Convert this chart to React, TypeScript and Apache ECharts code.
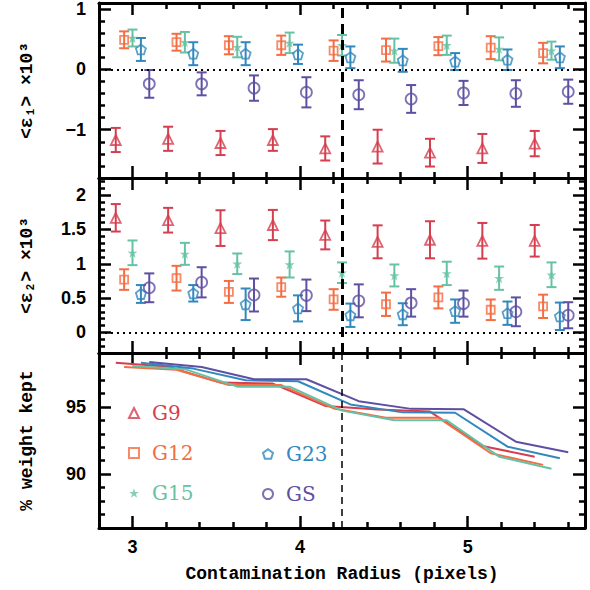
import React, { useEffect, useRef } from 'react';
import * as echarts from 'echarts';

// ---------- data ----------
const radii = [3.0, 3.3125, 3.625, 3.9375, 4.25, 4.5625, 4.875, 5.1875, 5.5];
const groupNames = ['G9', 'G12', 'G15', 'G23', 'GS'];

// <e1> x 10^3
const e1G9 = [-1.17, -1.15, -1.22, -1.17, -1.31, -1.28, -1.38, -1.31, -1.23];
const e1G9Err = [0.2, 0.2, 0.2, 0.18, 0.2, 0.28, 0.23, 0.24, 0.21];
const e1G12 = [0.49, 0.45, 0.4, 0.4, 0.31, 0.32, 0.385, 0.36, 0.27];
const e1G12Err = [0.14, 0.14, 0.15, 0.16, 0.17, 0.19, 0.15, 0.19, 0.17];
const e1G15 = [0.52, 0.45, 0.37, 0.44, 0.4, 0.31, 0.4, 0.34, 0.31];
const e1G15Err = [0.14, 0.17, 0.17, 0.17, 0.17, 0.2, 0.16, 0.19, 0.15];
const e1G23 = [0.33, 0.26, 0.26, 0.25, 0.2, 0.15, 0.13, 0.16, 0.2];
const e1G23Err = [0.19, 0.19, 0.19, 0.16, 0.18, 0.19, 0.14, 0.17, 0.18];
const e1GS = [-0.24, -0.24, -0.31, -0.38, -0.42, -0.49, -0.39, -0.4, -0.37];
const e1GSErr = [0.23, 0.19, 0.21, 0.25, 0.24, 0.23, 0.2, 0.22, 0.2];

// <e2> x 10^3
const e2G9 = [1.67, 1.635, 1.52, 1.565, 1.42, 1.32, 1.35, 1.335, 1.335];
const e2G9Err = [0.2, 0.18, 0.26, 0.22, 0.21, 0.24, 0.27, 0.26, 0.23];
const e2G12 = [0.77, 0.79, 0.59, 0.66, 0.48, 0.41, 0.51, 0.33, 0.38];
const e2G12Err = [0.15, 0.18, 0.16, 0.14, 0.15, 0.17, 0.16, 0.15, 0.17];
const e2G15 = [1.16, 1.145, 1.0, 0.99, 0.87, 0.83, 0.86, 0.79, 0.84];
const e2G15Err = [0.18, 0.16, 0.15, 0.19, 0.15, 0.16, 0.17, 0.17, 0.18];
const e2G23 = [0.56, 0.57, 0.41, 0.35, 0.25, 0.265, 0.31, 0.28, 0.235];
const e2G23Err = [0.13, 0.12, 0.23, 0.19, 0.17, 0.16, 0.17, 0.17, 0.2];
const e2GS = [0.65, 0.73, 0.545, 0.54, 0.46, 0.43, 0.42, 0.3, 0.25];
const e2GSErr = [0.21, 0.22, 0.24, 0.23, 0.24, 0.2, 0.19, 0.21, 0.19];

// % weight kept
const keptG9 = [98.28, 97.98, 96.8, 96.73, 95.07, 94.8, 94.65, 92.09, 91.3];
const keptG12 = [97.96, 97.75, 96.62, 96.62, 94.88, 94.19, 94.19, 91.55, 90.69];
const keptG15 = [98.03, 97.8, 96.5, 96.5, 94.72, 94.0, 94.0, 91.3, 90.4];
const keptG23 = [98.28, 97.84, 96.97, 96.9, 95.18, 94.59, 94.56, 92.04, 91.18];
const keptGS = [98.33, 97.96, 97.05, 97.05, 95.42, 94.85, 94.83, 92.41, 91.63];

const cutRadius = 4.25;

// ticks
const xMajorTicks = [3, 4, 5];
const xMinorTicks = [3.2, 3.4, 3.6, 3.8, 4.2, 4.4, 4.6, 4.8, 5.2, 5.4, 5.6];
const e1MajorTicks = [-1, 0, 1];
const e1MinorTicks = [-1.6, -1.4, -1.2, -0.8, -0.6, -0.4, -0.2, 0.2, 0.4, 0.6, 0.8];
const e2MajorTicks = [0, 0.5, 1, 1.5, 2];
const e2MinorTicks = [-0.2, -0.1, 0.1, 0.2, 0.3, 0.4, 0.6, 0.7, 0.8, 0.9, 1.1, 1.2, 1.3, 1.4, 1.6, 1.7, 1.8, 1.9, 2.1, 2.2];
const keptMajorTicks = [90, 95];
const keptMinorTicks = [87, 88, 89, 91, 92, 93, 94, 96, 97, 98];

// ---------- styles ----------
const PENTAGON = 'path://M0,-1L0.951,-0.309L0.588,0.809L-0.588,0.809L-0.951,-0.309Z';
const STAR = 'path://M0,-1L0.223,-0.307L0.951,-0.309L0.361,0.117L0.588,0.809L0,0.38L-0.588,0.809L-0.361,0.117L-0.951,-0.309L-0.223,-0.307Z';

const STYLE: Record<string, any> = {
  G9: { color: '#d53e4f', symbol: 'triangle', size: 10, filled: false, dodge: -0.1 },
  G12: { color: '#f46d43', symbol: 'rect', size: 8, filled: false, dodge: -0.05 },
  G15: { color: '#66c2a5', symbol: STAR, size: 10, filled: true, dodge: 0 },
  G23: { color: '#3288bd', symbol: PENTAGON, size: 10, filled: false, dodge: 0.05 },
  GS: { color: '#5e4fa2', symbol: 'circle', size: 11, filled: false, dodge: 0.1 },
};

const e1Vals: Record<string, number[][]> = {
  G9: [e1G9, e1G9Err], G12: [e1G12, e1G12Err], G15: [e1G15, e1G15Err], G23: [e1G23, e1G23Err], GS: [e1GS, e1GSErr],
};
const e2Vals: Record<string, number[][]> = {
  G9: [e2G9, e2G9Err], G12: [e2G12, e2G12Err], G15: [e2G15, e2G15Err], G23: [e2G23, e2G23Err], GS: [e2GS, e2GSErr],
};
const keptVals: Record<string, number[]> = { G9: keptG9, G12: keptG12, G15: keptG15, G23: keptG23, GS: keptGS };

const X_MIN = 2.8, X_MAX = 5.7;
const GRID_LEFT = 99, GRID_W = 486, GRID_TOP = 3, GRID_H = 175;
const labelFont = { fontFamily: 'Liberation Sans', fontWeight: 'bold', fontSize: 18, color: '#000' };
const titleFont = { fontFamily: 'Liberation Mono', fontWeight: 'bold', fontSize: 18, color: '#000' };

function buildOption() {
  const grids = [0, 1, 2].map((g) => ({ left: GRID_LEFT, width: GRID_W, top: GRID_TOP + g * GRID_H, height: GRID_H }));

  const xAxes: any[] = [];
  const yAxes: any[] = [];
  const yCfg = [
    { min: -1.8, max: 1.1, major: e1MajorTicks, minor: e1MinorTicks, name: '<ε₁> ×10³' },
    { min: -0.3, max: 2.25, major: e2MajorTicks, minor: e2MinorTicks, name: '<ε₂> ×10³' },
    { min: 86, max: 99, major: keptMajorTicks, minor: keptMinorTicks, name: '% weight kept' },
  ];
  const tickStyle = { color: '#000', width: 2.5 };
  for (let g = 0; g < 3; g++) {
    const combos = [
      { pos: 'bottom', vals: xMajorTicks, len: 12, main: true },
      { pos: 'bottom', vals: xMinorTicks, len: 6, main: false },
      { pos: 'top', vals: xMajorTicks, len: 12, main: true },
      { pos: 'top', vals: xMinorTicks, len: 6, main: false },
    ];
    combos.forEach((c, i) => {
      const isLabelAxis = g === 2 && i === 0;
      xAxes.push({
        type: 'value', gridIndex: g, position: c.pos, min: X_MIN, max: X_MAX,
        axisLine: { show: c.main, onZero: false, lineStyle: { color: '#000', width: 3 } },
        axisTick: { show: true, inside: true, length: c.len, customValues: c.vals, lineStyle: tickStyle },
        axisLabel: { show: isLabelAxis, customValues: c.vals, margin: 10, ...labelFont },
        splitLine: { show: false },
        name: isLabelAxis ? 'Contamination Radius (pixels)' : '',
        nameLocation: 'middle', nameGap: 37, nameTextStyle: titleFont,
      });
    });
    const yc = yCfg[g];
    const ycombos = [
      { pos: 'left', vals: yc.major, len: 12, main: true },
      { pos: 'left', vals: yc.minor, len: 6, main: false },
      { pos: 'right', vals: yc.major, len: 12, main: true },
      { pos: 'right', vals: yc.minor, len: 6, main: false },
    ];
    ycombos.forEach((c, i) => {
      const isLabelAxis = i === 0;
      yAxes.push({
        type: 'value', gridIndex: g, position: c.pos, min: yc.min, max: yc.max,
        axisLine: { show: c.main, onZero: false, lineStyle: { color: '#000', width: 3 } },
        axisTick: { show: true, inside: true, length: c.len, customValues: c.vals, lineStyle: tickStyle },
        axisLabel: {
          show: isLabelAxis, customValues: c.vals, margin: 13, ...labelFont,
          formatter: (v: number) => String(v).replace('-', '\u2212'),
        },
        splitLine: { show: false },
        name: isLabelAxis ? yc.name : '',
        nameLocation: 'middle', nameGap: 63, nameRotate: 90, nameTextStyle: titleFont,
      });
    });
  }

  const series: any[] = [];
  const panels = [e1Vals, e2Vals];
  // scatter markers first (legend icons come from them)
  panels.forEach((vals, g) => {
    groupNames.forEach((n, k) => {
      const st = STYLE[n];
      const [v] = vals[n];
      const s: any = {
        type: 'scatter', name: n, xAxisIndex: g * 4, yAxisIndex: g * 4,
        symbol: st.symbol, symbolSize: st.size, z: 4,
        itemStyle: st.filled
          ? { color: st.color }
          : { color: 'rgba(255,255,255,0)', borderColor: st.color, borderWidth: 1.8 },
        data: radii.map((r, i) => [r + st.dodge, v[i]]),
      };
      if (k === 0) {
        s.markLine = {
          silent: true, symbol: 'none', label: { show: false }, animation: false,
          data: [
            { yAxis: 0, lineStyle: { color: '#000', width: 2, type: [2, 4] } },
            { xAxis: cutRadius, lineStyle: { color: '#000', width: 3, type: [10, 6] } },
          ],
        };
      }
      series.push(s);
    });
  });
  // error bars
  panels.forEach((vals, g) => {
    groupNames.forEach((n) => {
      const st = STYLE[n];
      const [v, err] = vals[n];
      series.push({
        type: 'custom', name: n, xAxisIndex: g * 4, yAxisIndex: g * 4, z: 3,
        encode: { x: 0, y: 1 },
        data: radii.map((r, i) => [r + st.dodge, v[i], err[i]]),
        renderItem: (params: any, api: any) => {
          const x = api.value(0), y = api.value(1), e = api.value(2);
          const top = api.coord([x, y + e]);
          const bot = api.coord([x, y - e]);
          const hw = 5;
          const style = { stroke: st.color, lineWidth: 2 };
          return {
            type: 'group',
            children: [
              { type: 'line', shape: { x1: top[0], y1: top[1], x2: bot[0], y2: bot[1] }, style },
              { type: 'line', shape: { x1: top[0] - hw, y1: top[1], x2: top[0] + hw, y2: top[1] }, style },
              { type: 'line', shape: { x1: bot[0] - hw, y1: bot[1], x2: bot[0] + hw, y2: bot[1] }, style },
            ],
          };
        },
      });
    });
  });
  // kept lines
  groupNames.forEach((n, k) => {
    const st = STYLE[n];
    const s: any = {
      type: 'line', name: n, xAxisIndex: 8, yAxisIndex: 8, showSymbol: false, symbol: 'none',
      lineStyle: { color: st.color, width: 2 }, itemStyle: { color: st.color },
      data: radii.map((r, i) => [r + st.dodge, keptVals[n][i]]),
    };
    if (k === 0) {
      s.markLine = {
        silent: true, symbol: 'none', label: { show: false }, animation: false,
        data: [{ xAxis: cutRadius, lineStyle: { color: '#000', width: 1.5, type: [7, 5] } }],
      };
    }
    series.push(s);
  });

  const legendText = { fontFamily: 'DejaVu Serif', fontWeight: 'normal', fontSize: 20, lineHeight: 20, padding: [0, 0, 0, 8] };
  const mkLegendData = (names: string[]) => names.map((n) => ({ name: n, textStyle: { color: STYLE[n].color } }));

  return {
    animation: false,
    backgroundColor: '#fff',
    grid: grids,
    xAxis: xAxes,
    yAxis: yAxes,
    legend: [
      {
        data: mkLegendData(['G9', 'G12', 'G15']), orient: 'vertical', left: 128, top: 403,
        itemWidth: 10, itemHeight: 10, itemGap: 20, padding: 0, selectedMode: false, textStyle: legendText,
      },
      {
        data: mkLegendData(['G23', 'GS']), orient: 'vertical', left: 262, top: 444,
        itemWidth: 10, itemHeight: 10, itemGap: 20, padding: 0, selectedMode: false, textStyle: legendText,
      },
    ],
    series,
  };
}

export default function App() {
  const ref = useRef<HTMLDivElement>(null);
  useEffect(() => {
    if (!ref.current) return;
    const chart = echarts.init(ref.current, undefined, { renderer: 'svg' });
    chart.setOption(buildOption() as any);
    return () => chart.dispose();
  }, []);
  return <div ref={ref} style={{ width: 590, height: 590, position: 'absolute', left: 0, top: 0 }} />;
}
